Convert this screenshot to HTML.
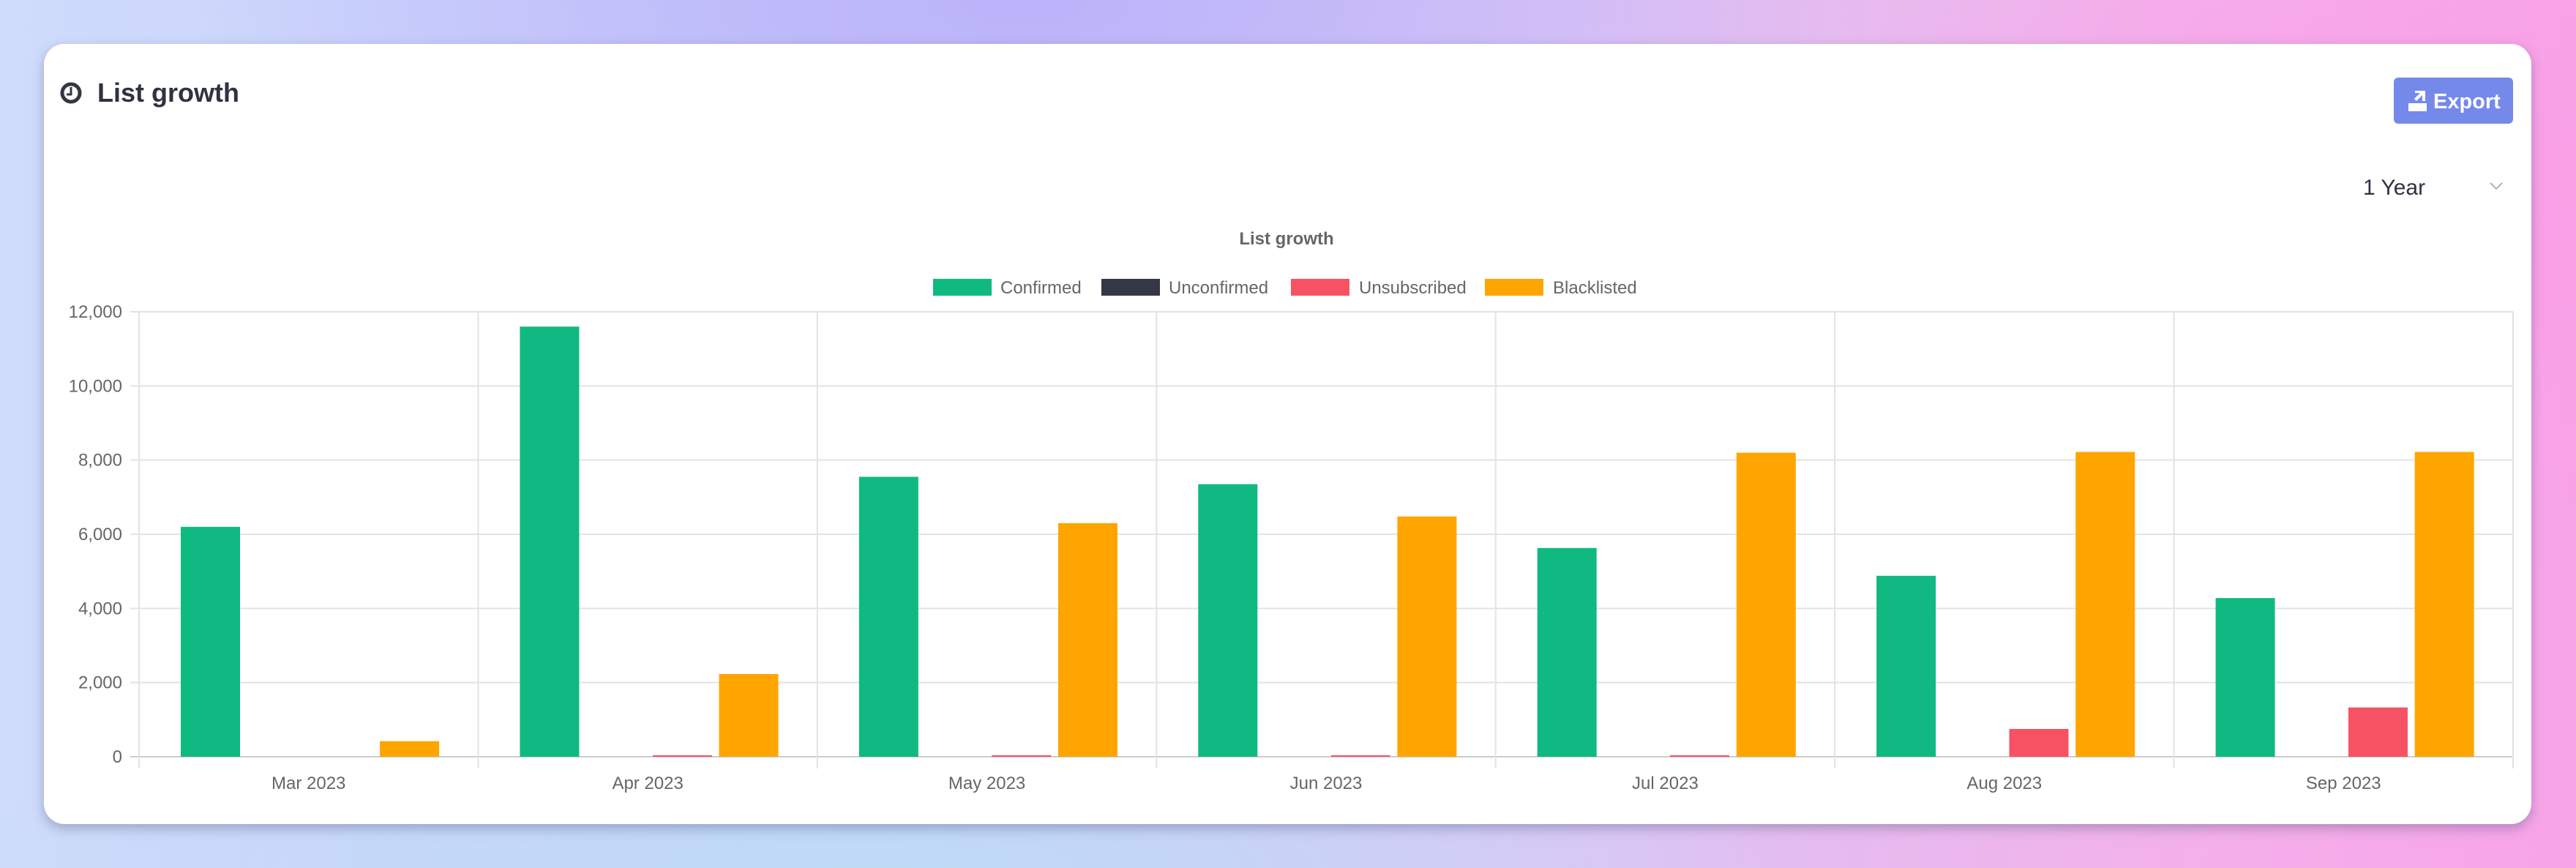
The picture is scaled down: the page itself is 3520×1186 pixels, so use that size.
<!DOCTYPE html>
<html><head><meta charset="utf-8">
<style>
html,body{margin:0;padding:0;width:3520px;height:1186px;overflow:hidden;font-family:"Liberation Sans",sans-serif;}
body{background:
 radial-gradient(ellipse 1400px 700px at 3400px 300px, rgba(250,160,232,0.95), rgba(250,160,232,0) 70%),
 radial-gradient(ellipse 1500px 600px at 1400px 0px, rgba(186,178,250,0.95), rgba(186,178,250,0) 75%),
 radial-gradient(ellipse 1600px 300px at 1200px 1186px, rgba(190,222,246,0.9), rgba(190,222,246,0) 80%),
 linear-gradient(90deg,#cfdcfb 0%,#c6c8fb 35%,#dcc4f4 60%,#f3b0ea 85%,#f8a4e8 100%);}
.card{position:absolute;left:60px;top:60px;width:3399px;height:1066px;background:#fff;border-radius:28px;box-shadow:0 6px 16px rgba(60,70,110,0.35);}
svg{position:absolute;left:0;top:0;}
</style></head><body>
<div class="card"></div>
<svg width="3520" height="1186" xmlns="http://www.w3.org/2000/svg" font-family="Liberation Sans, sans-serif">
 <circle cx="97" cy="127" r="12" fill="none" stroke="#333645" stroke-width="5"/>
 <path d="M97 119 V129 H91" fill="none" stroke="#333645" stroke-width="3"/>
 <text x="133" y="139" font-size="36" font-weight="bold" fill="#2f3242">List growth</text>
 <rect x="3271" y="106" width="163" height="63" rx="6" fill="#7589eb"/>
 <rect x="3291" y="141" width="25" height="11" fill="#fff"/>
 <path d="M3300 124 h14 v14 h-4 v-8 l-8 8 l-3 -3 l8 -8 h-7z" fill="#fff"/>
 <text x="3325" y="148" font-size="29" font-weight="bold" fill="#fff">Export</text>
 <text x="3229" y="266" font-size="30" fill="#2f3242">1 Year</text>
 <path d="M3403 250 l8 8 l8 -8" fill="none" stroke="#999" stroke-width="1.5"/>
 <text x="1758" y="334" font-size="24" font-weight="bold" fill="#666" text-anchor="middle">List growth</text>
 <g font-size="24" fill="#666">
  <rect x="1275" y="381" width="80" height="23" fill="#10b981"/><text x="1367" y="401">Confirmed</text>
  <rect x="1505" y="381" width="80" height="23" fill="#343745"/><text x="1597" y="401">Unconfirmed</text>
  <rect x="1764" y="381" width="80" height="23" fill="#f75264"/><text x="1857" y="401">Unsubscribed</text>
  <rect x="2029" y="381" width="80" height="23" fill="#ffa500"/><text x="2122" y="401">Blacklisted</text>
 </g>
 <g id="chart"></g>
</svg>
<script>
var g=document.getElementById('chart'),h='';
var L=190,R=3434,T=426,B=1034,cw=(R-L)/7,k=(B-T)/12000;
for(var i=0;i<=6;i++){var y=B-i*2000*k;h+='<line x1="'+(L-12)+'" x2="'+R+'" y1="'+y+'" y2="'+y+'" stroke="'+(i==0?'#ccc':'#e3e3e3')+'" stroke-width="2"/>';
h+='<text x="167" y="'+(y+8)+'" font-size="24" fill="#666" text-anchor="end">'+(i==0?'0':(i*2)+',000')+'</text>';}
for(var i=0;i<=7;i++){var x=L+i*cw;h+='<line x1="'+x+'" x2="'+x+'" y1="'+T+'" y2="1050" stroke="#e3e3e3" stroke-width="2"/>';}
var m=['Mar','Apr','May','Jun','Jul','Aug','Sep'];
var d=[[6200,0,0,420],[11600,0,30,2230],[7550,0,20,6300],[7350,0,20,6480],[5630,0,20,8200],[4880,0,750,8220],[4280,0,1330,8220]];
var c=['#10b981','#343745','#f75264','#ffa500'];
for(var j=0;j<7;j++){var bx=L+j*cw;
 h+='<text x="'+(bx+cw/2)+'" y="1078" font-size="24" fill="#666" text-anchor="middle">'+m[j]+' 2023</text>';
 for(var s=0;s<4;s++){var v=d[j][s];if(!v)continue;var hh=Math.max(v*k,2);
  h+='<rect x="'+(bx+57+90.7*s)+'" y="'+(B-hh)+'" width="81" height="'+hh+'" fill="'+c[s]+'"/>';}}
g.innerHTML=h;
</script>
</body></html>
